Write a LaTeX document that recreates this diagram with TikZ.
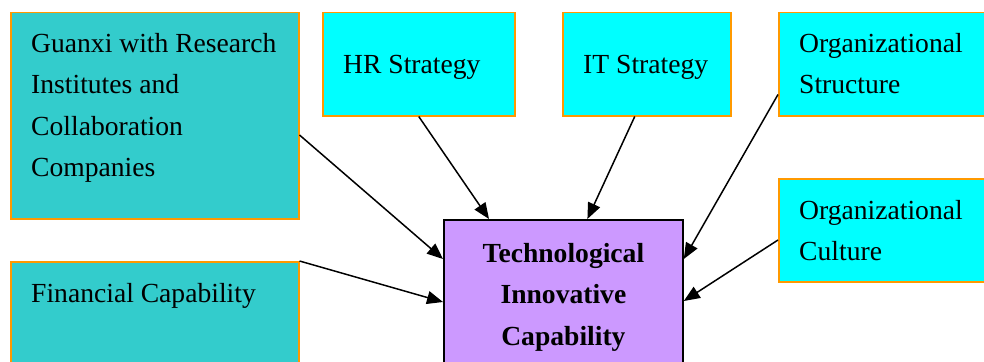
\documentclass[tikz,border=0pt]{standalone}
\usepackage{fontspec}
\setmainfont{Liberation Serif}
\usepackage{xcolor}
\usepackage{tikz}
\usetikzlibrary{arrows.meta,positioning,calc}

\definecolor{tealfill}{HTML}{33CCCC}
\definecolor{cyanfill}{HTML}{00FFFF}
\definecolor{purplefill}{HTML}{CC99FF}
\definecolor{orangeline}{HTML}{FF9900}

\begin{document}
\begin{tikzpicture}[x=1pt,y=1pt,
        factorbox/.style={draw=orangeline, line width=1.5pt, anchor=north west, inner sep=0pt},
        tealbox/.style={factorbox, fill=tealfill},
        cyanbox/.style={factorbox, fill=cyanfill},
        corebox/.style={draw=black, line width=1.8pt, fill=purplefill, anchor=north west, inner sep=0pt},
        boxtext/.style={anchor=north west, inner sep=0pt, align=left, font=\fontsize{27.6}{41.5}\selectfont},
        link/.style={line width=1.5pt, -{Triangle[length=16pt,width=13pt]}}]
        \clip (0,0) rectangle (984,-361);

        % Influencing factors
        \node[tealbox, minimum width=288, minimum height=206] (guanxi) at (10,-12) {};
        \node[cyanbox, minimum width=192, minimum height=103] (hr) at (322,-12) {};
        \node[cyanbox, minimum width=168, minimum height=103] (it) at (562,-12) {};
        \node[cyanbox, minimum width=240, minimum height=103] (orgs) at (778,-12) {};
        \node[cyanbox, minimum width=240, minimum height=103] (orgc) at (778,-178) {};
        \node[tealbox, minimum width=288, minimum height=140] (fin) at (10,-261) {};

        % Core capability
        \node[corebox, minimum width=239, minimum height=160] (tic) at (443,-219) {};

        % Texts
        \node[boxtext] (guanxitxt) at ([shift={(21,-21)}]guanxi.north west) {Guanxi with Research\\Institutes and\\Collaboration\\Companies};
        \node[boxtext] (hrtxt) at ([shift={(21,-43)}]hr.north west) {HR Strategy};
        \node[boxtext] (ittxt) at ([shift={(21,-43)}]it.north west) {IT Strategy};
        \node[boxtext] (orgstxt) at ([shift={(21,-21)}]orgs.north west) {Organizational\\Structure};
        \node[boxtext] (orgctxt) at ([shift={(21,-22)}]orgc.north west) {Organizational\\Culture};
        \node[boxtext] (fintxt) at ([shift={(21,-22)}]fin.north west) {Financial Capability};
        \node[boxtext, anchor=north, align=center, font=\fontsize{27.6}{41.5}\selectfont\bfseries] (tictxt)
            at ([yshift=-24]tic.north) {Technological\\Innovative\\Capability};

        % Arrows
        \draw[link] ([yshift=-123]guanxi.north east) -- ([yshift=-40]tic.north west);
        \draw[link] (hr.south) -- ([xshift=46]tic.north west);
        \draw[link] ([xshift=-12]it.south) -- ([xshift=24]tic.north);
        \draw[link] ([yshift=22]orgs.south west) -- ([yshift=-40]tic.north east);
        \draw[link] ([yshift=-62]orgc.north west) -- ([yshift=-82]tic.north east);
        \draw[link] (fin.north east) -- ([yshift=-83]tic.north west);
\end{tikzpicture}
\end{document}
